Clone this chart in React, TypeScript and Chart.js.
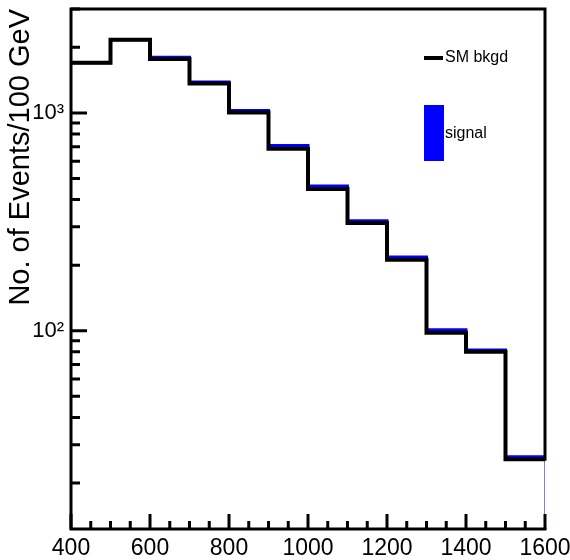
import React, { useEffect, useRef } from "react";
import { Chart, registerables } from "chart.js";

Chart.register(...registerables);

// ---- data ----
const binEdges = [400, 500, 600, 700, 800, 900, 1000, 1100, 1200, 1300, 1400, 1500, 1600];
const bkgdValues = [1700, 2170, 1770, 1365, 1005, 685, 448, 312, 212, 98, 80, 25.7];
const signalValues = [1700, 2170, 1800, 1385, 1025, 708, 462, 320, 218, 101, 81.5, 26.4];
const xTickValues = [400, 600, 800, 1000, 1200, 1400, 1600];
const xMinorTickValues = [450, 500, 550, 650, 700, 750, 850, 900, 950, 1050, 1100, 1150, 1250, 1300, 1350, 1450, 1500, 1550];
const yTickValues = [100, 1000];
const yTickLabels = ["10\u00B2", "10\u00B3"];
const yMinorTickValues = [20, 30, 40, 50, 60, 70, 80, 90, 200, 300, 400, 500, 600, 700, 800, 900, 2000, 3000];
const seriesNames = ["SM bkgd", "signal"];
const yAxisTitle = "No. of Events/100 GeV";
const xRange = [400, 1600];
const yRange = [12.3, 3000];

const FONT = "'Liberation Sans', Arial, Helvetica, sans-serif";

function histPoints(values: number[]) {
  const pts = values.map((v, i) => ({ x: binEdges[i], y: v }));
  pts.push({ x: binEdges[binEdges.length - 1], y: values[values.length - 1] });
  return pts;
}

const framePlugin = {
  id: "rootFrame",
  afterDatasetsDraw(chart: any) {
    const { ctx, chartArea, scales } = chart;
    const xs = scales.x;
    const ys = scales.y;
    const { left, right, top, bottom } = chartArea;
    ctx.save();
    ctx.strokeStyle = "#000";
    ctx.lineCap = "square";
    ctx.lineWidth = 3;
    const lastBk = ys.getPixelForValue(bkgdValues[bkgdValues.length - 1]);
    ctx.beginPath();
    ctx.moveTo(left, bottom);
    ctx.lineTo(left, top);
    ctx.lineTo(right, top);
    ctx.lineTo(right, lastBk);
    ctx.moveTo(left, bottom);
    ctx.lineTo(right, bottom);
    ctx.stroke();
    ctx.lineCap = "butt";
    ctx.beginPath();
    xTickValues.forEach((v) => {
      const px = xs.getPixelForValue(v);
      ctx.moveTo(px, bottom);
      ctx.lineTo(px, bottom - 15);
    });
    xMinorTickValues.forEach((v) => {
      const px = xs.getPixelForValue(v);
      ctx.moveTo(px, bottom);
      ctx.lineTo(px, bottom - 8);
    });
    yTickValues.forEach((v) => {
      const py = ys.getPixelForValue(v);
      ctx.moveTo(left, py);
      ctx.lineTo(left + 16, py);
    });
    yMinorTickValues.forEach((v) => {
      const py = ys.getPixelForValue(v);
      ctx.moveTo(left, py);
      ctx.lineTo(left + 9, py);
    });
    ctx.stroke();
    ctx.restore();
  },
  afterDraw(chart: any) {
    const { ctx } = chart;
    ctx.save();
    ctx.strokeStyle = "#000";
    ctx.lineWidth = 4;
    ctx.beginPath();
    ctx.moveTo(424, 58);
    ctx.lineTo(443, 58);
    ctx.stroke();
    ctx.fillStyle = "#000";
    ctx.font = `16px ${FONT}`;
    ctx.textBaseline = "middle";
    ctx.textAlign = "left";
    ctx.fillText(seriesNames[0], 445, 58);
    ctx.fillStyle = "#0000ff";
    ctx.fillRect(424, 105, 20, 56);
    ctx.fillStyle = "#000";
    ctx.fillText(seriesNames[1], 445, 134);
    ctx.restore();
  },
};

export default function App() {
  const ref = useRef<HTMLCanvasElement | null>(null);
  useEffect(() => {
    if (!ref.current) return;
    const chart = new Chart(ref.current, {
      type: "line",
      data: {
        datasets: [
          {
            label: seriesNames[0],
            data: histPoints(bkgdValues),
            borderColor: "#000",
            borderWidth: 4,
            stepped: true,
            pointRadius: 0,
            fill: false,
            borderCapStyle: "butt",
            borderJoinStyle: "miter",
          },
          {
            label: seriesNames[1],
            data: histPoints(signalValues),
            borderColor: "#0000ff",
            borderWidth: 3,
            stepped: true,
            pointRadius: 0,
            fill: false,
            borderCapStyle: "butt",
            borderJoinStyle: "miter",
          },
          {
            label: "signal edge",
            data: [
              { x: binEdges[binEdges.length - 1], y: signalValues[signalValues.length - 1] },
              { x: binEdges[binEdges.length - 1], y: yRange[0] },
            ],
            borderColor: "#6666ff",
            borderWidth: 1,
            pointRadius: 0,
            fill: false,
          },
        ],
      },
      options: {
        animation: false,
        responsive: false,
        devicePixelRatio: 1,
        layout: { padding: { left: 0, top: 9, right: 25, bottom: 0 } },
        plugins: {
          legend: { display: false },
          tooltip: { enabled: false },
        },
        scales: {
          x: {
            type: "linear",
            min: xRange[0],
            max: xRange[1],
            grid: { display: false, drawTicks: false },
            border: { display: false },
            afterBuildTicks: (s: any) => {
              s.ticks = xTickValues.map((v) => ({ value: v }));
            },
            afterFit: (s: any) => {
              s.height = 31;
              s.paddingLeft = 0;
              s.paddingRight = 0;
            },
            ticks: {
              autoSkip: false,
              maxRotation: 0,
              padding: 6,
              color: "#000",
              font: { family: FONT, size: 23 },
              callback: (v: any) => String(v),
            },
          },
          y: {
            type: "logarithmic",
            min: yRange[0],
            max: yRange[1],
            grid: { display: false, drawTicks: false },
            border: { display: false },
            afterBuildTicks: (s: any) => {
              s.ticks = yTickValues.map((v) => ({ value: v }));
            },
            afterFit: (s: any) => {
              s.width = 71;
              s.paddingTop = 0;
              s.paddingBottom = 0;
            },
            title: {
              display: true,
              text: yAxisTitle,
              align: "end",
              color: "#000",
              font: { family: FONT, size: 29 },
              padding: { top: 4, bottom: 0 },
            },
            ticks: {
              autoSkip: false,
              padding: 7,
              color: "#000",
              font: { family: FONT, size: 22 },
              callback: (v: any) => {
                const i = yTickValues.indexOf(Number(v));
                return i >= 0 ? yTickLabels[i] : "";
              },
            },
          },
        },
      },
      plugins: [framePlugin],
    } as any);
    return () => chart.destroy();
  }, []);
  return (
    <div style={{ position: "fixed", left: 0, top: 0, width: 570, height: 560, background: "#fff" }}>
      <canvas ref={ref} width={570} height={560} style={{ display: "block" }} />
    </div>
  );
}
